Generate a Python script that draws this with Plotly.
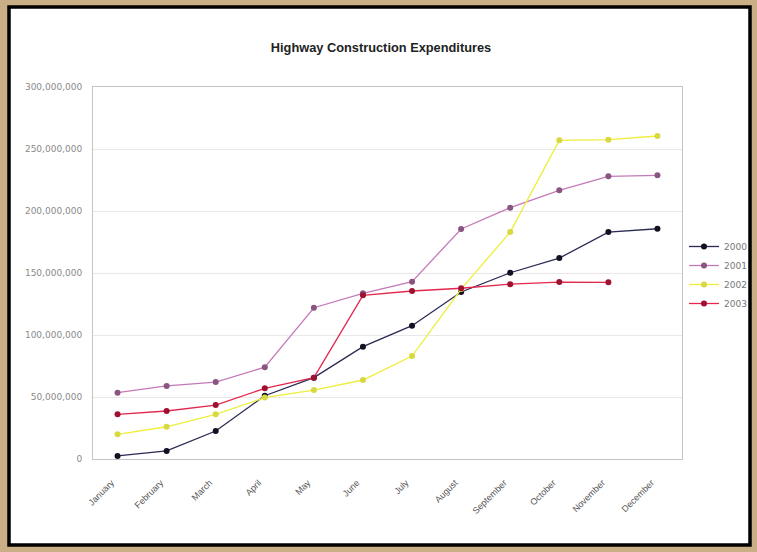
import plotly.graph_objects as go

months = ["January", "February", "March", "April", "May", "June", "July",
          "August", "September", "October", "November", "December"]

y2000 = [2500000, 6500000, 22600000, 51000000, 65600000, 90600000, 107500000,
         134700000, 150200000, 162000000, 183000000, 185700000]
y2001 = [53500000, 58900000, 62000000, 74000000, 122000000, 133600000, 143000000,
         185500000, 202700000, 216700000, 228000000, 228800000]
y2002 = [19900000, 26000000, 36000000, 49500000, 55600000, 63700000, 83000000,
         137000000, 183000000, 257000000, 257500000, 260500000]
y2003 = [36000000, 38700000, 43500000, 57000000, 65600000, 132000000, 135500000,
         137700000, 141000000, 142700000, 142500000, None]

series = [
    ("2000", y2000, "#2a2a55", "#111122"),
    ("2001", y2001, "#c47ab8", "#8a5580"),
    ("2002", y2002, "#eeee3a", "#d8d840"),
    ("2003", y2003, "#e2284e", "#a01030"),
]

fig = go.Figure()
for name, vals, lc, mc in series:
    fig.add_trace(go.Scatter(
        x=months, y=vals, name=name, mode="lines+markers",
        line=dict(color=lc, width=1.3),
        marker=dict(color=mc, size=6, symbol="circle"),
    ))

L, R, T, B = 93, 682, 87, 459
PW, PH = R - L, B - T

fig.update_layout(
    width=757, height=552,
    paper_bgcolor="#c9ae86",
    plot_bgcolor="#f1efee",
    margin=dict(l=L, r=757 - R, t=T, b=552 - B, autoexpand=False),
    title=dict(text="<b>Highway Construction Expenditures</b>",
               x=381 / 757, xanchor="center", y=1 - 48 / 552, yanchor="middle",
               xref="container", yref="container",
               font=dict(family="Liberation Sans", size=12.8, color="#222222")),
    showlegend=True,
    legend=dict(x=684 / 757, y=1 - 275 / 552, xanchor="left", yanchor="middle",
                xref="container", yref="container",
                bgcolor="rgba(0,0,0,0)",
                font=dict(family="DejaVu Sans", size=9, color="#777777"),
                tracegroupgap=0, itemwidth=30),
    shapes=[dict(type="rect", xref="paper", yref="paper",
                 x0=(9 - L) / PW, x1=(750 - L) / PW,
                 y0=(B - 545) / PH, y1=(B - 7) / PH,
                 fillcolor="white", line=dict(color="black", width=3.5),
                 layer="below")],
    font=dict(family="Liberation Sans", color="#666666"),
)

fig.update_xaxes(
    type="category", range=[-0.5, 11.5], tickangle=-45, automargin=False,
    tickfont=dict(family="Liberation Sans", size=9, color="#555555"),
    showgrid=False, showline=True, linecolor="#c4c4c4", mirror=True,
    ticks="", ticklabelstandoff=14, ticklabelshift=-6, zeroline=False,
)
fig.update_yaxes(
    range=[0, 300000000], dtick=50000000, tickformat=",d", automargin=False,
    tickfont=dict(family="DejaVu Sans", size=9, color="#8a8a8a"),
    showgrid=True, gridcolor="#e9e7e7", gridwidth=1,
    showline=True, linecolor="#c4c4c4", mirror=True,
    ticks="outside", ticklen=8, tickcolor="rgba(0,0,0,0)", zeroline=False,
)

fig.write_html("out.html", config={"displayModeBar": False},
               post_script="document.body.style.margin='0';document.body.style.padding='0';")
